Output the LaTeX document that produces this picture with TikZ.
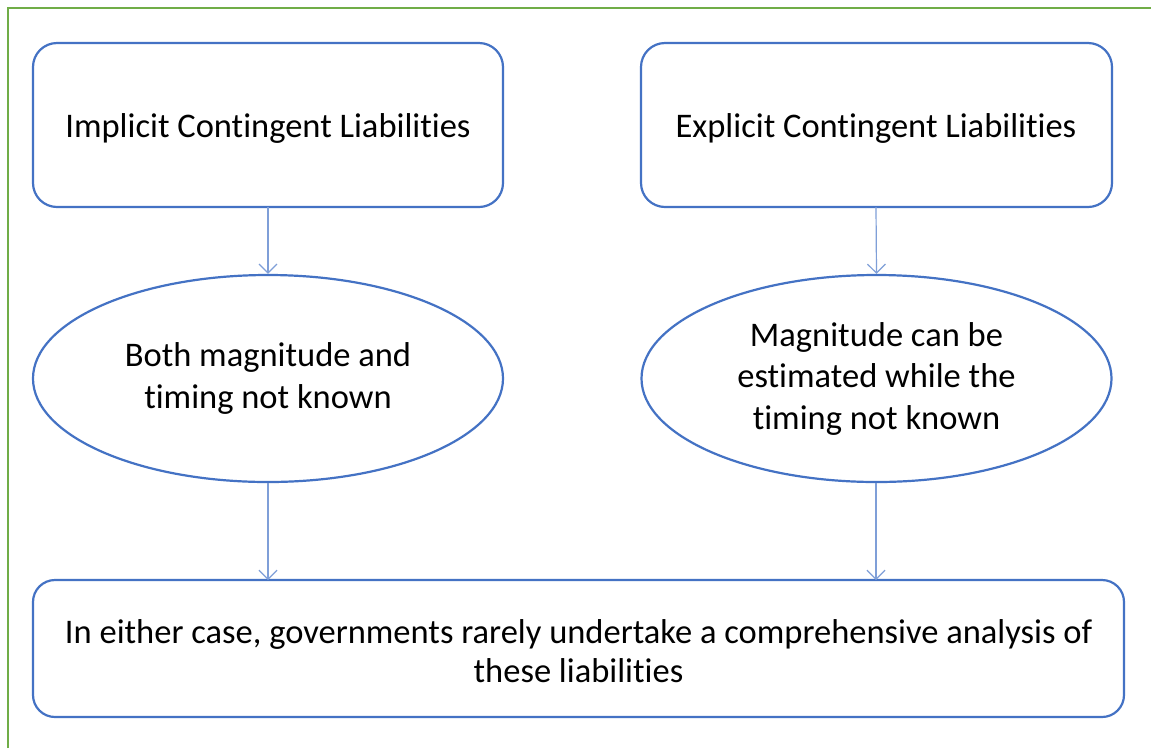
\documentclass[tikz,border=0pt]{standalone}
\usepackage{fontspec}
\setmainfont[Ligatures={NoCommon}]{Carlito}
\usetikzlibrary{shapes.geometric,arrows.meta}
\definecolor{shapeblue}{HTML}{4472C4}
\definecolor{arrowblue}{HTML}{7F9FD8}
\definecolor{framegreen}{HTML}{70AD47}
\tikzset{
  rbox/.style={draw=shapeblue, line width=2.2pt, rounded corners=24pt},
  ell/.style={draw=shapeblue, line width=2.2pt, ellipse, minimum width=470pt, minimum height=207pt, inner sep=0pt, align=center, font=\fontsize{34.5}{41.5}\selectfont},
  txt/.style={align=center, font=\fontsize{34.5}{38.5}\selectfont},
  conn/.style={draw=arrowblue, line width=1.2pt, -{Straight Barb[length=9pt,width=18pt,line width=1.2pt]}}
}
\begin{document}
\begin{tikzpicture}[x=1pt,y=-1pt]
\useasboundingbox (0,0) rectangle (1151,748);
\fill[white] (0,0) rectangle (1151,748);
\draw[framegreen, line width=2.5pt] (8,748) -- (8,8) -- (1151,8);
% top boxes
\draw[rbox] (33,43) rectangle (503,207);
\node[txt] (imp) at (268,128) {Implicit Contingent Liabilities};
\draw[rbox] (641,43) rectangle (1112,207);
\node[txt] (exp) at (876,128) {Explicit Contingent Liabilities};
\coordinate (impb) at (268,207);
\coordinate (expb) at (876,207);
% ellipses
\node[ell] (e1) at (268,378.5) {Both magnitude and\\timing not known};
\node[ell] (e2) at (876.5,378.5) {\raisebox{0pt}[0pt][0pt]{}Magnitude can be\\estimated while the\\timing not known};
% bottom box
\draw[rbox, rounded corners=22pt] (33,580) rectangle (1124,717);
\node[txt] (bot) at (578.5,651) {In either case, governments rarely undertake a comprehensive analysis of\\these liabilities};
\coordinate (bl) at (268,580);
\coordinate (br) at (876,580);
% connectors
\draw[conn] (impb) -- (e1.north);
\draw[conn] (expb) -- (e2.north);
\draw[conn] (e1.south) -- (bl);
\draw[conn] (e2.south -| expb) -- (br);
\end{tikzpicture}
\end{document}
